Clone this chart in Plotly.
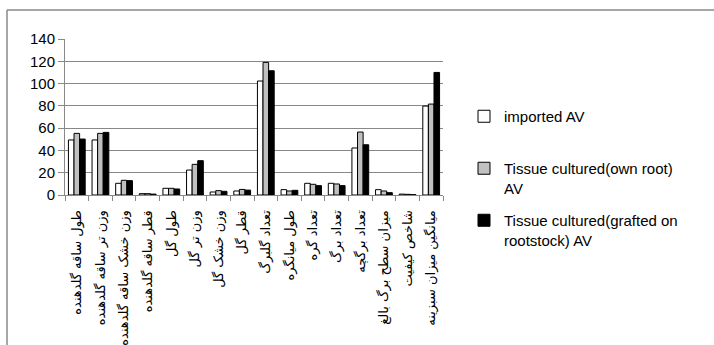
import plotly.graph_objects as go

categories = [
    "طول ساقه گلدهنده", "وزن تر ساقه گلدهنده", "وزن خشک ساقه گلدهنده", "قطر ساقه گلدهنده",
    "طول گل", "وزن تر گل", "وزن خشک گل", "قطر گل", "تعداد گلبرگ", "طول میانگره",
    "تعداد گره", "تعداد برگ", "تعداد برگچه", "میزان سطح برگ بالغ", "شاخص کیفیت",
    "میانگین میزان سبزینه",
]
imported = [49.4, 49.4, 10.5, 1.2, 6.0, 22.4, 2.7, 3.6, 102.3, 4.8, 10.5, 10.5, 42.2, 4.8, 0.8, 79.8]
own_root = [55.3, 55.3, 13.2, 1.2, 6.0, 27.5, 3.9, 5.0, 119.0, 3.6, 9.6, 9.9, 56.5, 3.6, 0.6, 81.6]
grafted = [50.2, 56.2, 12.9, 0.8, 5.4, 30.8, 3.3, 4.4, 111.5, 4.2, 8.4, 8.4, 45.1, 2.1, 0.3, 110.0]
series_names = ["imported AV<br> ", "Tissue cultured(own root)<br>AV", "Tissue cultured(grafted on<br>rootstock) AV"]
y_ticks = [0, 20, 40, 60, 80, 100, 120, 140]

fills = ["#ffffff", "#c0c0c0", "#000000"]

fig = go.Figure()
for i, (name, vals) in enumerate(zip(series_names, [imported, own_root, grafted])):
    fig.add_trace(go.Bar(
        x=categories, y=vals, name=name, legendgroup=str(i),
        marker=dict(color=fills[i], line=dict(color="#000000", width=1)),
    ))

W, H = 714, 345
L, R, T, B = 65, 271, 39, 150
pw, ph = W - L - R, H - T - B

def px(x):
    return (x - L) / pw

def py(y):
    return (H - B - y) / ph

fig.update_layout(
    width=W, height=H,
    margin=dict(l=L, r=R, t=T, b=B, autoexpand=False),
    paper_bgcolor="white", plot_bgcolor="white",
    barmode="group", bargap=0.29, bargroupgap=0,
    font=dict(family="Liberation Sans", color="#000000"),
    legend=dict(
        x=px(464), y=py(100), xanchor="left", yanchor="top",
        font=dict(family="Liberation Sans", size=15, color="#000000"),
        traceorder="grouped", tracegroupgap=10, valign="top",
        bgcolor="rgba(0,0,0,0)", itemwidth=30, maxheight=400,
    ),
    xaxis=dict(
        type="category", tickangle=-90,
        showline=True, linecolor="#888888", linewidth=1,
        ticks="outside", tickson="boundaries", ticklen=5, tickcolor="#888888",
        tickfont=dict(family="DejaVu Sans", size=13, color="#000000"),
        ticklabelstandoff=9,
        showgrid=False, fixedrange=True,
    ),
    yaxis=dict(
        range=[0, 140], tickvals=y_ticks,
        showline=True, linecolor="#888888", linewidth=1,
        ticks="outside", ticklen=6, tickcolor="#888888",
        showgrid=True, gridcolor="#888888", gridwidth=1,
        tickfont=dict(family="Liberation Sans", size=15, color="#000000"),
        zeroline=False, fixedrange=True,
    ),
    shapes=[
        dict(type="line", xref="paper", yref="paper", x0=px(7), x1=px(714), y0=py(10), y1=py(10),
             line=dict(color="#888888", width=1.5)),
        dict(type="line", xref="paper", yref="paper", x0=px(7), x1=px(7), y0=py(10), y1=py(345),
             line=dict(color="#888888", width=1.5)),
    ],
)

fig.write_html("out.html", config={"displayModeBar": False},
               post_script="document.body.style.margin='0px';")
